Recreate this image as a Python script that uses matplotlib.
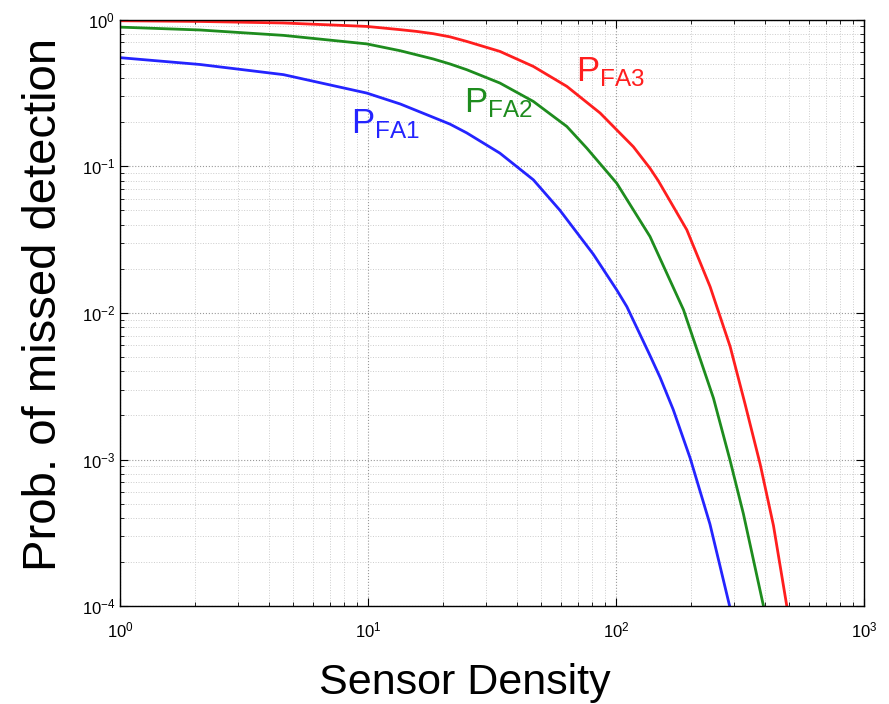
import matplotlib
matplotlib.use("Agg")
import matplotlib.pyplot as plt
from matplotlib.ticker import LogLocator, NullFormatter

plt.rcParams["font.family"] = ["Liberation Sans", "DejaVu Sans"]
plt.rcParams["mathtext.fontset"] = "custom"
plt.rcParams["mathtext.rm"] = "Liberation Sans"
plt.rcParams["mathtext.it"] = "Liberation Sans:italic"
plt.rcParams["mathtext.bf"] = "Liberation Sans:bold"

# Values
x_fa1 = [1, 2.1, 4.56, 9.88, 13.5, 18.3, 21.4, 25, 34, 46.4, 59.4, 81,
         100.6, 110.5, 137, 150.5, 170, 199, 239, 287]
p_fa1 = [0.551, 0.495, 0.422, 0.316, 0.266, 0.216, 0.194, 0.169, 0.123, 0.0809,
         0.0501, 0.0251, 0.01435, 0.01104, 0.00513, 0.00363, 0.00219, 0.00102,
         0.000363, 0.0001]

x_fa2 = [1, 2.1, 4.56, 9.88, 13.5, 18.3, 21.4, 25, 34, 46.4, 63.3, 76.2,
         100.6, 137, 187, 247, 288, 326, 393]
p_fa2 = [0.89, 0.851, 0.782, 0.684, 0.614, 0.54, 0.499, 0.456, 0.37, 0.277,
         0.187, 0.133, 0.0767, 0.0332, 0.0105, 0.00262, 0.00099, 0.000427, 0.0001]

x_fa3 = [1, 2.1, 4.56, 9.88, 13.5, 15.7, 18.3, 21.4, 25, 34, 46.4, 63.3, 86.2,
         117.4, 137, 148.1, 192.8, 239.4, 288.4, 331, 381, 431, 488]
p_fa3 = [0.984, 0.973, 0.95, 0.9, 0.855, 0.832, 0.803, 0.764, 0.711, 0.608,
         0.48, 0.351, 0.231, 0.136, 0.097, 0.0795, 0.0369, 0.0151, 0.00589,
         0.0024, 0.00093, 0.000355, 0.0001]

series = [
    (x_fa1, p_fa1, "#2424ff", "FA1", (8.5, 0.168)),
    (x_fa2, p_fa2, "#1e8c1e", "FA2", (24.4, 0.232)),
    (x_fa3, p_fa3, "#ff1e1e", "FA3", (69, 0.379)),
]

fig = plt.figure(figsize=(8.89, 7.04), dpi=100)
ax = fig.add_axes([0.135, 0.139, 0.837, 0.833])

for xs, ys, col, sub, pos in series:
    ax.loglog(xs, ys, color=col, lw=2.0)
    ax.text(pos[0], pos[1], r"P$_{\mathrm{" + sub + "}}$", color=col,
            fontsize=25, ha="left", va="baseline")

ax.set_xlim(1, 1000)
ax.set_ylim(1e-4, 1)

ax.xaxis.set_minor_locator(LogLocator(base=10, subs=range(2, 10), numticks=20))
ax.yaxis.set_minor_locator(LogLocator(base=10, subs=range(2, 10), numticks=20))
ax.xaxis.set_minor_formatter(NullFormatter())
ax.yaxis.set_minor_formatter(NullFormatter())

ax.grid(True, which="major", ls=":", color="#999999", lw=0.8)
ax.grid(True, which="minor", ls=":", color="#cccccc", lw=0.7)

ax.tick_params(which="both", direction="in", top=True, right=True, labelsize=12)
ax.tick_params(which="major", length=6, width=0.8)
ax.tick_params(which="minor", length=3, width=0.6)
ax.tick_params(axis="x", which="major", pad=10)
for sp in ax.spines.values():
    sp.set_linewidth(1.0)

ax.set_xlabel("Sensor Density", fontsize=31)
ax.set_ylabel("Prob. of missed detection", fontsize=34)
ax.xaxis.set_label_coords(0.464, -0.097)
ax.yaxis.set_label_coords(-0.072, 0.514)

fig.savefig("out.png", dpi=100)
